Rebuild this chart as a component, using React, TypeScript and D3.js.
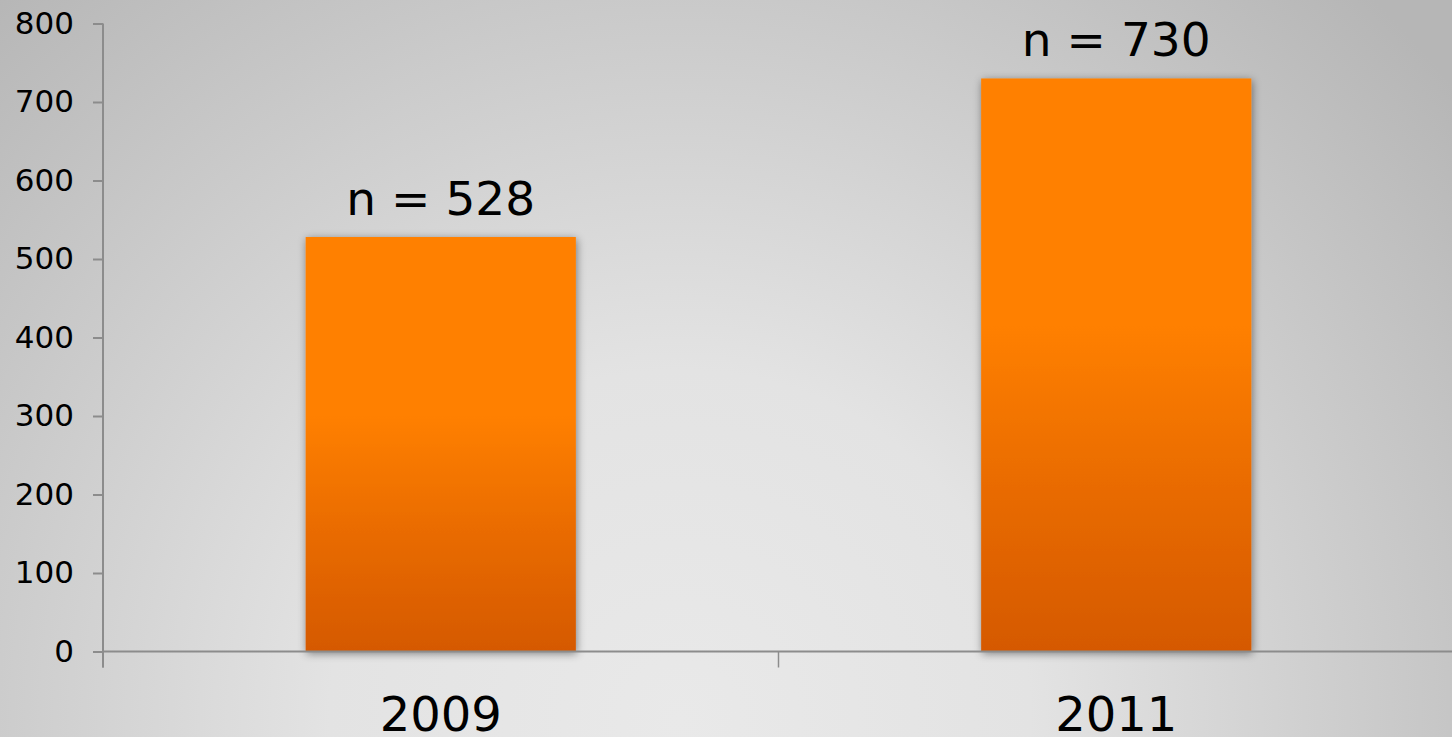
import * as d3 from 'd3';
import React, { useEffect, useRef } from 'react';

const years = ['2009', '2011'];
const counts = [528, 730];
const yTicks = [0, 100, 200, 300, 400, 500, 600, 700, 800];

const W = 1452;
const H = 737;

function App() {
    const ref = useRef<SVGSVGElement>(null);

    useEffect(() => {
        const svg = d3.select(ref.current);
        svg.selectAll('*').remove();

        const left = 103, top = 23.5, bottom = 651.5, right = 1454;

        const x = d3.scaleBand<string>()
            .domain(years)
            .range([left, right])
            .padding(0);

        const y = d3.scaleLinear()
            .domain([0, 800])
            .range([bottom, top]);

        const defs = svg.append('defs');

        const bg = defs.append('radialGradient')
            .attr('id', 'bg')
            .attr('gradientUnits', 'userSpaceOnUse')
            .attr('cx', 680).attr('cy', 720)
            .attr('r', 1000);
        bg.append('stop').attr('offset', '0').attr('stop-color', '#e9e9e9');
        bg.append('stop').attr('offset', '0.35').attr('stop-color', '#e3e3e3');
        bg.append('stop').attr('offset', '1').attr('stop-color', '#b6b6b6');

        const barGrad = defs.append('linearGradient')
            .attr('id', 'bar')
            .attr('x1', 0).attr('y1', 0).attr('x2', 0).attr('y2', 1);
        barGrad.append('stop').attr('offset', '0').attr('stop-color', '#ff8000');
        barGrad.append('stop').attr('offset', '0.43').attr('stop-color', '#ff8000');
        barGrad.append('stop').attr('offset', '0.7').attr('stop-color', '#ea6c00');
        barGrad.append('stop').attr('offset', '1').attr('stop-color', '#d55900');

        const shadow = defs.append('filter')
            .attr('id', 'shadow')
            .attr('x', '-10%').attr('y', '-10%')
            .attr('width', '120%').attr('height', '120%');
        shadow.append('feDropShadow')
            .attr('dx', 1).attr('dy', 2)
            .attr('stdDeviation', 4)
            .attr('flood-color', '#000')
            .attr('flood-opacity', 0.45);

        svg.append('rect')
            .attr('width', W).attr('height', H)
            .attr('fill', 'url(#bg)');

        const font = '"DejaVu Sans", Verdana, sans-serif';
        const axisColor = '#8c8c8c';

        // bars
        const bw = x.bandwidth() * 0.4;
        svg.append('g')
            .selectAll('rect')
            .data(years)
            .join('rect')
            .attr('x', d => x(d)! + (x.bandwidth() - bw) / 2)
            .attr('y', (d, i) => y(counts[i]))
            .attr('width', bw)
            .attr('height', (d, i) => y(0) - y(counts[i]))
            .attr('fill', 'url(#bar)')
            .attr('filter', 'url(#shadow)');

        // value labels
        svg.append('g')
            .selectAll('text')
            .data(years)
            .join('text')
            .attr('x', d => x(d)! + x.bandwidth() / 2)
            .attr('y', (d, i) => y(counts[i]) - 22)
            .attr('text-anchor', 'middle')
            .style('font-family', font)
            .style('font-size', '47px')
            .attr('fill', '#000')
            .text((d, i) => `n = ${counts[i]}`);

        // y axis
        const yAxis = svg.append('g')
            .attr('transform', `translate(${left},0)`)
            .call(d3.axisLeft(y).tickValues(yTicks).tickSize(10).tickPadding(19));
        yAxis.select('.domain').remove();
        yAxis.selectAll('line').attr('stroke', axisColor).attr('stroke-width', 2);
        yAxis.selectAll('text')
            .style('font-family', font)
            .style('font-size', '31px')
            .attr('fill', '#000');

        // x axis
        const xTicks = [left, ...years.slice(1).map(d => x(d)!), right];
        svg.append('line')
            .attr('x1', left).attr('x2', W)
            .attr('y1', y(0)).attr('y2', y(0))
            .attr('stroke', axisColor).attr('stroke-width', 2);
        svg.append('line')
            .attr('x1', left).attr('x2', left)
            .attr('y1', top).attr('y2', y(0) + 16)
            .attr('stroke', axisColor).attr('stroke-width', 2);
        svg.append('g')
            .selectAll('line')
            .data(xTicks)
            .join('line')
            .attr('x1', d => d).attr('x2', d => d)
            .attr('y1', y(0)).attr('y2', y(0) + 16)
            .attr('stroke', axisColor).attr('stroke-width', 1.5);

        svg.append('g')
            .selectAll('text')
            .data(years)
            .join('text')
            .attr('x', d => x(d)! + x.bandwidth() / 2)
            .attr('y', 731)
            .attr('text-anchor', 'middle')
            .style('font-family', font)
            .style('font-size', '48px')
            .attr('fill', '#000')
            .text(d => d);
    }, []);

    return (
        <svg ref={ref} width={W} height={H}
            style={{ position: 'absolute', left: 0, top: 0, display: 'block' }}></svg>
    );
}

export default App;
